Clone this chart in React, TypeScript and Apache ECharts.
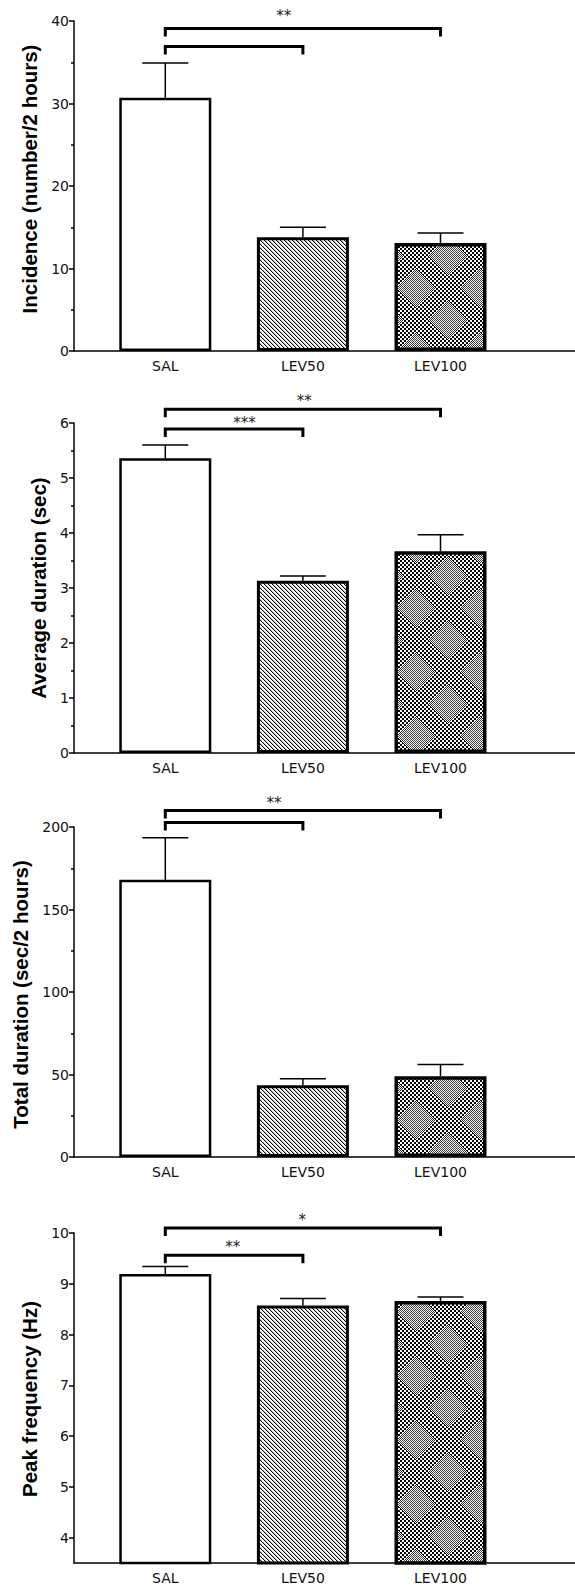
import React, { useEffect, useRef } from "react";
import * as echarts from "echarts";

const categories = ["SAL", "LEV50", "LEV100"];

const incidenceMean = [30.7, 13.8, 13.1];
const incidenceSem = [4.2, 1.2, 1.2];
const avgDurationMean = [5.36, 3.13, 3.67];
const avgDurationSem = [0.24, 0.09, 0.3];
const totalDurationMean = [168, 43.5, 49];
const totalDurationSem = [25.5, 4, 7];
const peakFreqMean = [9.19, 8.57, 8.66];
const peakFreqSem = [0.15, 0.14, 0.08];

const panelTitles = [
  "Incidence (number/2 hours)",
  "Average duration (sec)",
  "Total duration (sec/2 hours)",
  "Peak frequency (Hz)",
];

const peakFreqTicks = [4, 5, 6, 7, 8, 9, 10];

// brackets: [fromCategory, toCategory, level]
const incidenceBrackets = [[0, 2, 39.1], [0, 1, 36.9]];
const avgDurationBrackets = [[0, 2, 6.25], [0, 1, 5.89]];
const totalDurationBrackets = [[0, 2, 210], [0, 1, 202.7]];
const peakFreqBrackets = [[0, 2, 10.1], [0, 1, 9.56]];

// significance marks: [position between categories, level]
const incidenceStars = [[0.86, 40.9]];
const incidenceStarText = ["**"];
const avgDurationStars = [[1.01, 6.44], [0.575, 6.03]];
const avgDurationStarText = ["**", "***"];
const totalDurationStars = [[0.79, 216]];
const totalDurationStarText = ["**"];
const peakFreqStars = [[0.995, 10.3], [0.49, 9.76]];
const peakFreqStarText = ["*", "**"];

const FONT = "'DejaVu Sans', Verdana, sans-serif";
const TITLE_FONT = "'Liberation Sans', Arial, sans-serif";

function makeHatch(): HTMLCanvasElement {
  const c = document.createElement("canvas");
  c.width = 8;
  c.height = 8;
  const ctx = c.getContext("2d")!;
  ctx.fillStyle = "#fff";
  ctx.fillRect(0, 0, 8, 8);
  for (let y = 0; y < 8; y++)
    for (let x = 0; x < 8; x++) {
      const m = (((x - y) % 4) + 4) % 4;
      if (m === 0) {
        ctx.fillStyle = "#000";
        ctx.fillRect(x, y, 1, 1);
      } else if (m === 1) {
        ctx.fillStyle = "#b8b8b8";
        ctx.fillRect(x, y, 1, 1);
      }
    }
  return c;
}

function makeChecker(): HTMLCanvasElement {
  const S = 64;
  const c = document.createElement("canvas");
  c.width = S;
  c.height = S;
  const ctx = c.getContext("2d")!;
  ctx.fillStyle = "#fff";
  ctx.fillRect(0, 0, S, S);
  for (let y = 0; y < S; y++)
    for (let x = 0; x < S; x++) {
      const d = Math.abs(x - S / 2 + 0.5) + Math.abs(y - S / 2 + 0.5);
      const light = d < 20 || d > 44;
      if (light) {
        if ((x + y) % 2 === 0) {
          ctx.fillStyle = "#3a3a3a";
          ctx.fillRect(x, y, 1, 1);
        }
      } else if (((x >> 1) + (y >> 1)) % 2 === 0) {
        ctx.fillStyle = "#000";
        ctx.fillRect(x, y, 1, 1);
      }
    }
  return c;
}

export default function App() {
  const ref = useRef<HTMLDivElement>(null);

  useEffect(() => {
    if (!ref.current) return;
    const chart = echarts.init(ref.current, undefined, { renderer: "svg" });
    const hatch = makeHatch();
    const checker = makeChecker();
    const fills: any[] = [
      "#fff",
      { image: hatch, repeat: "repeat" },
      { image: checker, repeat: "repeat" },
    ];
    const borderWidths = [2.5, 3, 3.5];

    const panels = [
      { mean: incidenceMean, sem: incidenceSem, min: 0, max: 40, interval: 10, brackets: incidenceBrackets, stars: incidenceStars, starText: incidenceStarText, nameGap: 31, pad: [0, 0, 0, 14] },
      { mean: avgDurationMean, sem: avgDurationSem, min: 0, max: 6, interval: 1, brackets: avgDurationBrackets, stars: avgDurationStars, starText: avgDurationStarText, nameGap: 24, pad: [0, 0, 0, 0] },
      { mean: totalDurationMean, sem: totalDurationSem, min: 0, max: 200, interval: 50, brackets: totalDurationBrackets, stars: totalDurationStars, starText: totalDurationStarText, nameGap: 40, pad: [0, 5, 0, 0] },
      { mean: peakFreqMean, sem: peakFreqSem, min: 3.5, max: 10, interval: 0, brackets: peakFreqBrackets, stars: peakFreqStars, starText: peakFreqStarText, nameGap: 31, pad: [0, 2, 0, 0] },
    ];
    const tops = [21, 423, 827, 1233];
    const H = 330;

    const grid: any[] = [];
    const xAxis: any[] = [];
    const yAxis: any[] = [];
    const series: any[] = [];
    const black = { color: "#000", width: 1.5 };

    panels.forEach((p, i) => {
      const f = 2 * i;
      const b = 2 * i + 1;
      grid.push({ left: 74, right: 0, top: tops[i], height: H });
      grid.push({ left: 96.5, width: 412.8, top: tops[i], height: H });

      xAxis.push({
        gridIndex: f, type: "value", min: 0, max: 1,
        axisLine: { show: true, lineStyle: black },
        axisTick: { show: false }, axisLabel: { show: false }, splitLine: { show: false },
      });
      xAxis.push({
        gridIndex: b, type: "category", data: categories,
        axisLine: { show: false }, axisTick: { show: false },
        axisLabel: { fontSize: 14, color: "#111", fontFamily: FONT, margin: 8 },
      });

      const yf: any = {
        gridIndex: f, type: "value", min: p.min, max: p.max,
        axisLine: { show: true, lineStyle: black },
        axisTick: { show: true, length: 5, lineStyle: black },
        splitLine: { show: false },
        axisLabel: { fontSize: 14, color: "#111", fontFamily: FONT, margin: 5 },
        name: panelTitles[i], nameLocation: "middle", nameGap: p.nameGap,
        nameTextStyle: { fontSize: 20.5, fontWeight: "bold", color: "#000", fontFamily: TITLE_FONT, padding: p.pad },
      };
      if (p.interval) {
        yf.interval = p.interval;
        yf.minorTick = { show: true, splitNumber: 2, length: 3, lineStyle: black };
        yf.minorSplitLine = { show: false };
      } else {
        yf.axisTick.customValues = peakFreqTicks;
        yf.axisLabel.customValues = peakFreqTicks;
      }
      yAxis.push(yf);
      yAxis.push({ gridIndex: b, type: "value", min: p.min, max: p.max, show: false });

      series.push({
        type: "bar", xAxisIndex: b, yAxisIndex: b, barWidth: 92, z: 2,
        data: p.mean.map((v, k) => ({
          value: v,
          itemStyle: { color: fills[k], borderColor: "#000", borderWidth: borderWidths[k] },
        })),
      });
      series.push({
        type: "custom", xAxisIndex: b, yAxisIndex: b, z: 3, clip: false,
        data: p.mean.map((v, k) => [k, v, v + p.sem[k]]),
        encode: { x: 0, y: [1, 2] },
        renderItem: (params: any, api: any) => {
          const x = api.value(0);
          const pb = api.coord([x, api.value(1)]);
          const pt = api.coord([x, api.value(2)]);
          return {
            type: "group",
            children: [
              { type: "line", shape: { x1: pb[0], y1: pb[1], x2: pt[0], y2: pt[1] }, style: { stroke: "#000", lineWidth: 1.5 } },
              { type: "line", shape: { x1: pt[0] - 23, y1: pt[1], x2: pt[0] + 23, y2: pt[1] }, style: { stroke: "#000", lineWidth: 1.5 } },
            ],
          };
        },
      });
      series.push({
        type: "custom", xAxisIndex: b, yAxisIndex: b, z: 3, clip: false,
        data: p.brackets,
        encode: { x: 0, y: 2 },
        renderItem: (params: any, api: any) => {
          const a = api.coord([api.value(0), api.value(2)]);
          const c = api.coord([api.value(1), api.value(2)]);
          return {
            type: "polyline",
            shape: { points: [[a[0], a[1] + 8], [a[0], a[1]], [c[0], c[1]], [c[0], c[1] + 8]] },
            style: { stroke: "#000", lineWidth: 3, fill: null },
          };
        },
      });
      series.push({
        type: "custom", xAxisIndex: b, yAxisIndex: b, z: 3, clip: false,
        data: p.stars.map((s) => [0, s[0], s[1]]),
        encode: { x: 0, y: 2 },
        renderItem: (params: any, api: any) => {
          const y = api.value(2);
          const p0 = api.coord([0, y]);
          const p1 = api.coord([1, y]);
          const px = p0[0] + api.value(1) * (p1[0] - p0[0]);
          return {
            type: "text",
            style: {
              x: px, y: p0[1] + 2, text: p.starText[params.dataIndex],
              fill: "#222", fontSize: 15, fontFamily: FONT, align: "center", verticalAlign: "middle",
            },
          };
        },
      });
    });

    chart.setOption({ animation: false, backgroundColor: "#fff", grid, xAxis, yAxis, series });
    return () => chart.dispose();
  }, []);

  return <div ref={ref} style={{ position: "absolute", left: 0, top: 0, width: 575, height: 1590 }} />;
}
